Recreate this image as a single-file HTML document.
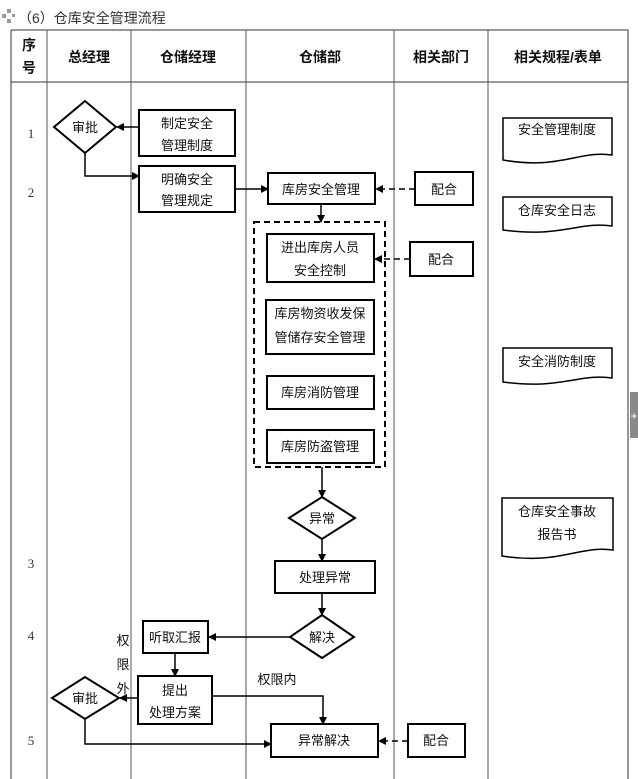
<!DOCTYPE html>
<html><head><meta charset="utf-8"><style>
html,body{margin:0;padding:0;background:#fff;}
svg{display:block;font-family:"Liberation Sans","Noto Sans CJK SC",sans-serif;}
</style></head><body>
<svg width="638" height="779" viewBox="0 0 638 779" xmlns="http://www.w3.org/2000/svg">
<defs>
<marker id="a" markerWidth="8" markerHeight="8" refX="7" refY="4" orient="auto" markerUnits="userSpaceOnUse"><path d="M0,0 L8,4 L0,8 z" fill="#000"/></marker>
</defs>
<rect width="638" height="779" fill="#fff"/>
<!-- title -->
<g fill="#999"><rect x="2" y="14" width="4" height="4"/><rect x="7" y="9" width="4" height="4"/><rect x="7" y="19" width="4" height="4"/><rect x="12" y="14" width="3" height="3"/></g>
<text x="18" y="23" font-size="14" fill="#333">（6）仓库安全管理流程</text>
<!-- table -->
<g stroke="#333" stroke-width="1" fill="none">
<path d="M11,30 H628 V779 M11,30 V779 M11,82 H628"/>
<path d="M47,30 V779 M131,30 V779 M246,30 V779 M394,30 V779 M488,30 V779" stroke="#555"/>
</g>
<g font-size="14" font-weight="bold" text-anchor="middle" fill="#111">
<text x="29" y="50">序</text><text x="29" y="73">号</text>
<text x="89" y="62">总经理</text><text x="188" y="62">仓储经理</text>
<text x="320" y="62">仓储部</text><text x="441" y="62">相关部门</text>
<text x="558" y="62">相关规程/表单</text>
</g>
<g font-size="13" text-anchor="middle" fill="#333" font-family="Liberation Serif,serif">
<text x="31" y="138">1</text><text x="31" y="197">2</text><text x="31" y="568">3</text><text x="31" y="640">4</text><text x="31" y="745">5</text>
</g>
<!-- shapes -->
<g stroke="#000" stroke-width="2" fill="#fff">
<polygon points="54,127 85,101 116,127 85,153"/>
<rect x="139" y="110" width="96" height="46"/>
<rect x="139" y="166" width="96" height="46"/>
<rect x="268" y="173" width="107" height="31"/>
<rect x="415" y="172" width="58" height="33"/>
<rect x="254" y="222" width="131" height="245" stroke-dasharray="6,4" fill="none"/>
<rect x="267" y="234" width="107" height="48"/>
<rect x="410" y="242" width="63" height="34"/>
<rect x="266" y="300" width="108" height="54"/>
<rect x="267" y="376" width="107" height="33"/>
<rect x="267" y="430" width="107" height="33"/>
<polygon points="289,518 322,497 355,518 322,539"/>
<rect x="275" y="561" width="100" height="32"/>
<polygon points="290,637 322,615 354,637 322,658"/>
<rect x="143" y="621" width="65" height="32"/>
<rect x="138" y="676" width="74" height="48"/>
<polygon points="52,698 85,677 119,698 85,719"/>
<rect x="271" y="724" width="107" height="33"/>
<rect x="408" y="724" width="57" height="33"/>
</g>
<!-- doc shapes -->
<g stroke="#000" stroke-width="1.5" fill="#fff">
<path d="M503,118 H612 V155 C580,150 560,170 503,160 Z"/>
<path d="M503,197 H612 V226 C580,221 560,238 503,230 Z"/>
<path d="M503,348 H612 V378 C580,373 560,390 503,382 Z"/>
<path d="M502,498 H613 V550 C580,545 560,565 502,556 Z"/>
</g>
<!-- connectors -->
<g stroke="#000" stroke-width="1.5" fill="none" marker-end="url(#a)">
<path d="M139,127 H117"/>
<path d="M85,153 V176 H139"/>
<path d="M235,189 H268"/>
<path d="M415,189 H376" stroke-dasharray="6,4"/>
<path d="M321,204 V222"/>
<path d="M410,259 H375" stroke-dasharray="6,4"/>
<path d="M322,467 V497"/>
<path d="M322,539 V561"/>
<path d="M322,593 V615"/>
<path d="M290,637 H209"/>
<path d="M175,653 V676"/>
<path d="M138,698 H120"/>
<path d="M212,696 H323 V724"/>
<path d="M85,719 V744 H271"/>
<path d="M408,741 H379" stroke-dasharray="6,4"/>
</g>
<!-- labels -->
<g font-size="13" text-anchor="middle" fill="#111">
<text x="85" y="132">审批</text>
<text x="187" y="128">制定安全</text><text x="187" y="150">管理制度</text>
<text x="187" y="184">明确安全</text><text x="187" y="205">管理规定</text>
<text x="321" y="194">库房安全管理</text>
<text x="444" y="194">配合</text>
<text x="320" y="252">进出库房人员</text><text x="320" y="275">安全控制</text>
<text x="441" y="264">配合</text>
<text x="320" y="318">库房物资收发保</text><text x="320" y="342">管储存安全管理</text>
<text x="320" y="397">库房消防管理</text>
<text x="320" y="451">库房防盗管理</text>
<text x="322" y="523">异常</text>
<text x="325" y="582">处理异常</text>
<text x="322" y="642">解决</text>
<text x="175" y="642">听取汇报</text>
<text x="175" y="695">提出</text><text x="175" y="717">处理方案</text>
<text x="85" y="703">审批</text>
<text x="123" y="645">权</text><text x="123" y="669">限</text><text x="123" y="693">外</text>
<text x="277" y="684">权限内</text>
<text x="324" y="745">异常解决</text>
<text x="436" y="745">配合</text>
<text x="557" y="134">安全管理制度</text>
<text x="557" y="215">仓库安全日志</text>
<text x="557" y="366">安全消防制度</text>
<text x="557" y="516">仓库安全事故</text><text x="557" y="539">报告书</text>
</g>
<!-- side tab -->
<rect x="630" y="392" width="8" height="46" fill="#8a8a8a"/>
<text x="634" y="420" font-size="12" fill="#fff" text-anchor="middle">+</text>
</svg>
</body></html>
